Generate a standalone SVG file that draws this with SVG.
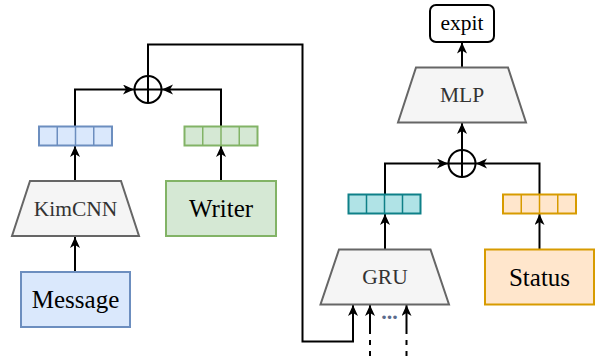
<svg xmlns="http://www.w3.org/2000/svg" width="595" height="356" viewBox="0 0 595 356">
<defs>
<marker id="ah" markerWidth="12" markerHeight="11" refX="11" refY="5" orient="auto" markerUnits="userSpaceOnUse">
<path d="M0,0 L11,5 L0,10 L3,5 Z" fill="#000"/>
</marker>
<style>
.t{font-family:"Liberation Serif","Times New Roman",serif;text-anchor:middle;dominant-baseline:central}
.trap{fill:#f5f5f5;stroke:#666;stroke-width:2}
.trapt{font-size:21.5px;fill:#333}
.big{font-size:25px;fill:#000}
.ln{fill:none;stroke:#000;stroke-width:2}
.blue{fill:#dae8fc;stroke:#6c8ebf;stroke-width:2}
.green{fill:#d5e8d4;stroke:#82b366;stroke-width:2}
.teal{fill:#b0e3e6;stroke:#0e8088;stroke-width:2}
.orange{fill:#ffe6cc;stroke:#d79b00;stroke-width:2}
.cell{fill:none;stroke-width:1.5}
</style>
</defs>
<rect width="595" height="356" fill="#fff"/>

<g id="connectors">
<path class="ln" d="M75,272 V237" marker-end="url(#ah)"/>
<path class="ln" d="M75,181 V146" marker-end="url(#ah)"/>
<path class="ln" d="M221,181 V146" marker-end="url(#ah)"/>
<path class="ln" d="M75,126 V89.5 H134" marker-end="url(#ah)"/>
<path class="ln" d="M221,126 V89.5 H162" marker-end="url(#ah)"/>
<path class="ln" d="M148,76 V44.5 H302.5 V341.5 H353 V305" marker-end="url(#ah)"/>
<path class="ln" d="M370,330 V305" marker-end="url(#ah)"/>
<path class="ln" d="M370,356 V330" stroke-dasharray="5 6"/>
<path class="ln" d="M406.5,330 V305" marker-end="url(#ah)"/>
<path class="ln" d="M406.5,356 V330" stroke-dasharray="5 6"/>
<path class="ln" d="M385,249 V214" marker-end="url(#ah)"/>
<path class="ln" d="M539.5,249 V214" marker-end="url(#ah)"/>
<path class="ln" d="M385,194 V163.5 H448" marker-end="url(#ah)"/>
<path class="ln" d="M539.5,194 V163.5 H476" marker-end="url(#ah)"/>
<path class="ln" d="M462,150 V123" marker-end="url(#ah)"/>
<path class="ln" d="M462,67 V42.5" marker-end="url(#ah)"/>
</g>

<g id="message">
<rect class="blue" x="21" y="272" width="109" height="55"/>
<text class="t big" x="75.5" y="299.5">Message</text>
</g>

<g id="kimcnn">
<path class="trap" d="M30,181 H121 L139,236 H12 Z"/>
<text class="t trapt" x="75.5" y="208.5">KimCNN</text>
</g>

<g id="writer">
<rect class="green" x="166" y="181" width="110" height="55"/>
<text class="t big" x="221" y="208.5">Writer</text>
</g>

<g id="vec-blue">
<rect class="blue" x="39" y="126.5" width="73" height="19"/>
<path class="cell" stroke="#6c8ebf" d="M57.25,126.5 V145.5 M75.5,126.5 V145.5 M93.75,126.5 V145.5"/>
</g>

<g id="vec-green">
<rect class="green" x="184.5" y="126.5" width="73" height="19"/>
<path class="cell" stroke="#82b366" d="M202.75,126.5 V145.5 M221,126.5 V145.5 M239.25,126.5 V145.5"/>
</g>

<g id="plus-left">
<circle cx="148" cy="89.5" r="13.5" fill="#fff" stroke="#000" stroke-width="2"/>
<path class="ln" d="M134.5,89.5 H161.5 M148,76 V103"/>
</g>

<g id="gru">
<path class="trap" d="M339,249.5 H430.5 L449,304.5 H320.5 Z"/>
<text class="t trapt" x="385" y="277">GRU</text>
</g>

<g id="dots">
<text x="389.5" y="319" style="font-family:'Liberation Serif',serif;text-anchor:middle;font-size:22px;font-weight:bold;fill:#5b6b8c">...</text>
</g>

<g id="status">
<rect class="orange" x="485" y="249.5" width="109" height="55"/>
<text class="t big" x="539.5" y="277">Status</text>
</g>

<g id="vec-teal">
<rect class="teal" x="348.5" y="194.5" width="72" height="19"/>
<path class="cell" stroke="#0e8088" d="M366.5,194.5 V213.5 M384.5,194.5 V213.5 M402.5,194.5 V213.5"/>
</g>

<g id="vec-orange">
<rect class="orange" x="503" y="194.5" width="73" height="19"/>
<path class="cell" stroke="#d79b00" d="M521.25,194.5 V213.5 M539.5,194.5 V213.5 M557.75,194.5 V213.5"/>
</g>

<g id="plus-right">
<circle cx="462" cy="163.5" r="13.5" fill="#fff" stroke="#000" stroke-width="2"/>
<path class="ln" d="M448.5,163.5 H475.5 M462,150 V177"/>
</g>

<g id="mlp">
<path class="trap" d="M416,67.5 H508 L526,122.5 H398 Z"/>
<text class="t trapt" x="462" y="95">MLP</text>
</g>

<g id="expit">
<rect x="430" y="5" width="64" height="37" rx="6" fill="#fff" stroke="#000" stroke-width="2"/>
<text class="t" x="462" y="22.5" style="font-size:21.5px;fill:#000">expit</text>
</g>
</svg>
